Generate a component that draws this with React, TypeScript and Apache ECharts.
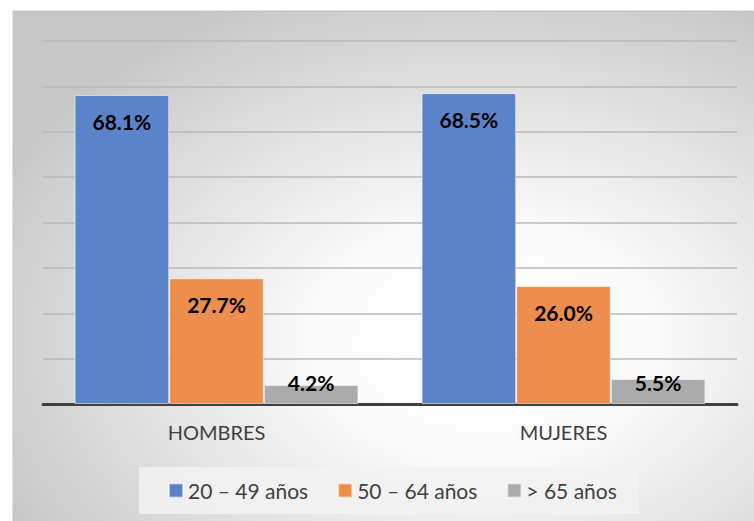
import React, { useEffect, useRef } from "react";
import * as echarts from "echarts";

const categories = ["HOMBRES", "MUJERES"];
const seriesNames = ["20 – 49 años", "50 – 64 años", "> 65 años"];
const age20to49 = [68.1, 68.5];
const age50to64 = [27.7, 26.0];
const age65plus = [4.2, 5.5];
const yTicks = [0, 10, 20, 30, 40, 50, 60, 70, 80];

const colors = ["#5B83C9", "#EE8E4E", "#ABABAB"];
const FONT = "Lato, 'Noto Sans', sans-serif";

export default function App() {
  const ref = useRef<HTMLDivElement>(null);
  useEffect(() => {
    if (!ref.current) return;
    const chart = echarts.init(ref.current, null, { renderer: "svg" });
    const values = [age20to49, age50to64, age65plus];
    const series = values.map((vals, i) => ({
      name: seriesNames[i],
      type: "bar",
      barGap: "0%",
      barCategoryGap: "18.2%",
      itemStyle: { color: colors[i], borderColor: "rgba(255,255,255,0.55)", borderWidth: 1 },
      data: vals.map((v) => ({
        value: v,
        label: v >= 10
          ? { position: "insideTop", distance: 16 }
          : { position: "insideBottom", distance: 11 },
      })),
      label: {
        show: true,
        formatter: (p: any) => p.value.toFixed(1) + "%",
        color: "#000",
        fontWeight: "bold",
        fontSize: 21,
        lineHeight: 21,
        fontFamily: FONT,
      },
      z: 3,
    }));
    chart.setOption({
      animation: false,
      backgroundColor: "#ffffff",
      graphic: [
        {
          type: "rect",
          z: -10,
          silent: true,
          shape: { x: 13, y: 11, width: 760, height: 530 },
          style: {
            fill: new echarts.graphic.RadialGradient(0.62, 0.62, 0.72, [
              { offset: 0, color: "#ffffff" },
              { offset: 0.3, color: "#fbfbfb" },
              { offset: 1, color: "#c6c6c6" },
            ]),
            stroke: "#c4c4c4",
            lineWidth: 1,
          },
        },
      ],
      grid: { left: 43, right: 17, top: 41, bottom: 117, containLabel: false },
      xAxis: {
        type: "category",
        data: categories,
        axisLine: { lineStyle: { color: "#404040", width: 3 } },
        axisTick: { show: false },
        axisLabel: { color: "#404040", fontSize: 20, fontFamily: FONT, margin: 18 },
      },
      yAxis: {
        type: "value",
        min: yTicks[0],
        max: yTicks[yTicks.length - 1],
        interval: yTicks[1] - yTicks[0],
        axisLabel: { show: false },
        axisLine: { show: false },
        axisTick: { show: false },
        splitLine: { lineStyle: { color: "#b8b8b8", width: 1.5 } },
      },
      legend: {
        data: seriesNames,
        left: 139,
        top: 467,
        orient: "horizontal",
        backgroundColor: "rgba(242,242,242,0.85)",
        padding: [13, 22, 13, 29],
        itemWidth: 14,
        itemHeight: 14,
        itemGap: 29,
        icon: "rect",
        textStyle: { color: "#404040", fontSize: 21, lineHeight: 20, fontFamily: FONT },
      },
      series,
    });
    return () => chart.dispose();
  }, []);
  return (
    <div
      ref={ref}
      style={{ position: "absolute", left: 0, top: 0, width: 754, height: 521 }}
    />
  );
}
